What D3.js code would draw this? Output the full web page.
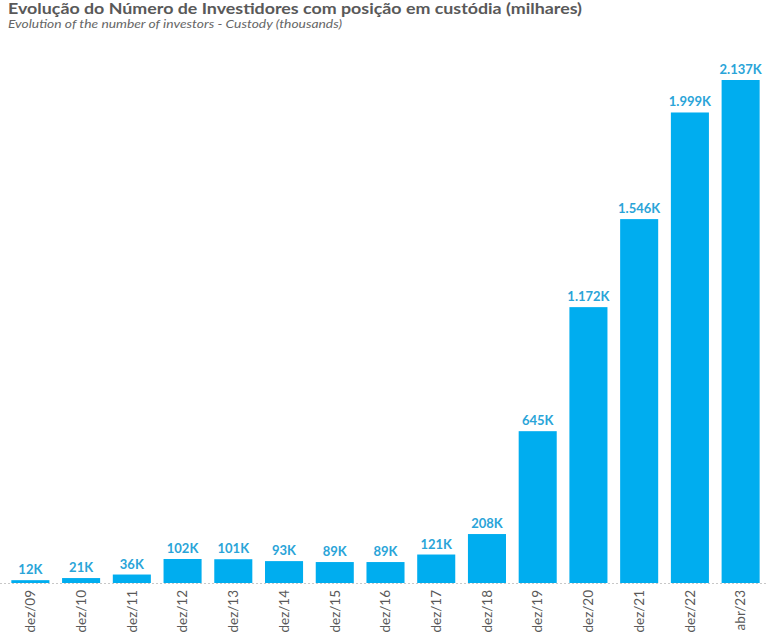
<!DOCTYPE html>
<html><head><meta charset="utf-8">
<script src="https://cdn.jsdelivr.net/npm/d3@7"></script>
<style>body{margin:0;background:#fff}</style>
</head><body>
<svg id="c" width="778" height="641"></svg>
<script>
const categories = ["dez/09","dez/10","dez/11","dez/12","dez/13","dez/14","dez/15","dez/16","dez/17","dez/18","dez/19","dez/20","dez/21","dez/22","abr/23"];
const values = [12,21,36,102,101,93,89,89,121,208,645,1172,1546,1999,2137];
const labels = ["12K","21K","36K","102K","101K","93K","89K","89K","121K","208K","645K","1.172K","1.546K","1.999K","2.137K"];
const title = "Evolução do Número de Investidores com posição em custódia (milhares)";
const subtitle = "Evolution of the number of investors - Custody (thousands)";

const svg = d3.select("#c");
const font = "Lato, 'DejaVu Sans', sans-serif";
const x = d3.scaleBand().domain(categories).range([5, 766]).paddingInner(0.25).paddingOuter(0.125);
const y = d3.scaleLinear().domain([0, 2137]).range([583, 80]);

svg.append("text").attr("x", 8).attr("y", 14).attr("font-family", font).attr("font-weight", "bold")
  .attr("font-size", 15).attr("fill", "#595959")
  .attr("textLength", 574).attr("lengthAdjust", "spacingAndGlyphs").text(title);
svg.append("text").attr("x", 8).attr("y", 28).attr("font-family", font).attr("font-style", "italic")
  .attr("font-size", 11.5).attr("fill", "#666")
  .attr("textLength", 334).attr("lengthAdjust", "spacingAndGlyphs").text(subtitle);

svg.append("line").attr("x1", 0).attr("x2", 766).attr("y1", 583.5).attr("y2", 583.5)
  .attr("stroke", "#c8c8c8").attr("stroke-dasharray", "2,2");

svg.selectAll("rect.bar").data(values).join("rect").attr("class", "bar")
  .attr("x", (d, i) => x(categories[i])).attr("width", x.bandwidth())
  .attr("y", d => y(d)).attr("height", d => y(0) - y(d)).attr("fill", "#00adef");

svg.selectAll("text.lbl").data(values).join("text").attr("class", "lbl")
  .attr("x", (d, i) => x(categories[i]) + x.bandwidth() / 2).attr("y", d => y(d) - 6)
  .attr("text-anchor", "middle").attr("font-family", font).attr("font-weight", "bold")
  .attr("font-size", 13).attr("fill", "#2aa4d8").text((d, i) => labels[i]);

const ax = svg.append("g").attr("transform", "translate(0,583)")
  .call(d3.axisBottom(x).tickSize(0).tickPadding(0));
ax.select(".domain").remove();
ax.selectAll("text").attr("font-family", font).attr("font-size", 13.5).attr("fill", "#595959")
  .attr("transform", "rotate(-90)").attr("text-anchor", "end").attr("dy", "0.35em")
  .attr("x", -7).attr("y", 0);
</script>
</body></html>
